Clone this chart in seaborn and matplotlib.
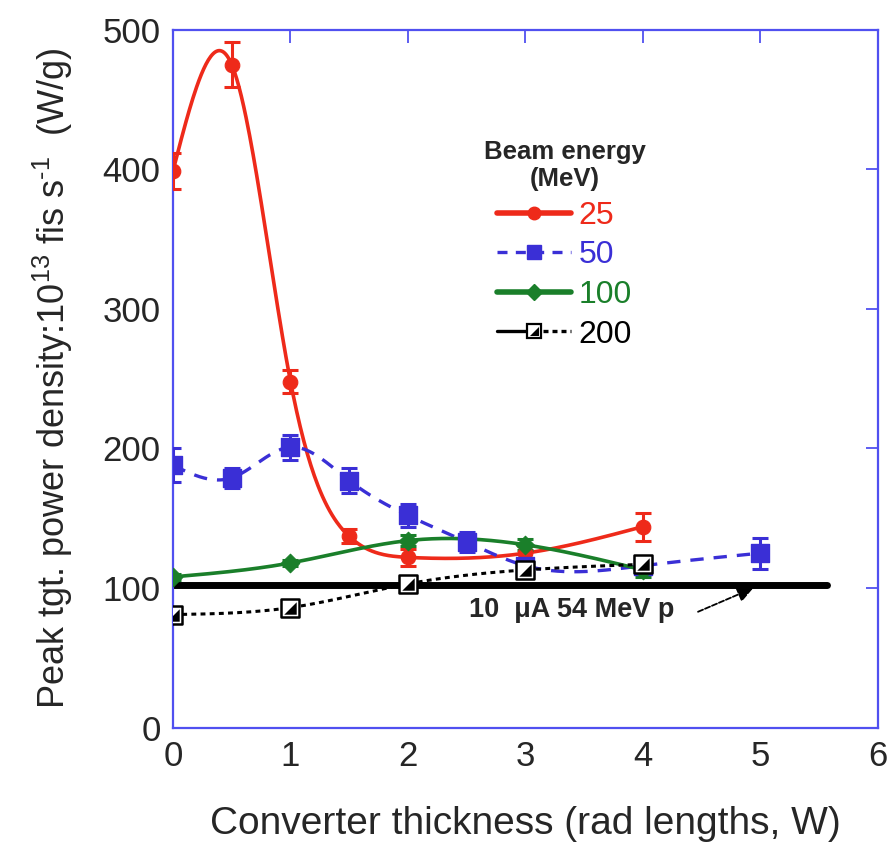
import numpy as np
import pandas as pd
import matplotlib
matplotlib.use("Agg")
import matplotlib.pyplot as plt
import seaborn as sns
from matplotlib.lines import Line2D
from matplotlib.legend_handler import HandlerBase

# Converter thickness (radiation lengths) and peak target power density (W/g)
x25 = [0, 0.5, 1, 1.5, 2, 3, 4]
y25 = [399, 475, 248, 137, 122, 125, 144]
e25 = [13, 16, 8, 5, 6, 5, 10]

x50 = [0, 0.5, 1, 1.5, 2, 2.5, 3, 4, 5]
y50 = [188, 179, 201, 177, 152, 133, 116, 116, 125]
e50 = [12, 7, 9, 9, 8, 7, 5, 6, 11]

x100 = [0, 1, 2, 3, 4]
y100 = [108, 118, 134, 131, 113]
e100 = [2, 2, 4, 4, 5]

x200 = [0, 1, 2, 3, 4]
y200 = [81, 86, 103, 113, 117]

energies = ["25", "50", "100", "200"]
proton_level = 102
proton_span = [0, 5.57]
proton_label = "10  \u03bcA 54 MeV p"

sns.set_style("white")
plt.rcParams["font.family"] = ["Liberation Sans", "DejaVu Sans"]
plt.rcParams["mathtext.fontset"] = "custom"
plt.rcParams["mathtext.rm"] = "Liberation Sans"
plt.rcParams["mathtext.it"] = "Liberation Sans:italic"


def natural_spline(x, y, n=400):
    x = np.asarray(x, float)
    y = np.asarray(y, float)
    k = len(x)
    h = np.diff(x)
    A = np.zeros((k, k))
    r = np.zeros(k)
    A[0, 0] = A[-1, -1] = 1
    for i in range(1, k - 1):
        A[i, i - 1] = h[i - 1]
        A[i, i] = 2 * (h[i - 1] + h[i])
        A[i, i + 1] = h[i]
        r[i] = 6 * ((y[i + 1] - y[i]) / h[i] - (y[i] - y[i - 1]) / h[i - 1])
    M = np.linalg.solve(A, r)
    xs = np.linspace(x[0], x[-1], n)
    idx = np.clip(np.searchsorted(x, xs) - 1, 0, k - 2)
    x0, x1 = x[idx], x[idx + 1]
    hh = x1 - x0
    a = (x1 - xs) / hh
    b = (xs - x0) / hh
    ys = (a * y[idx] + b * y[idx + 1]
          + ((a ** 3 - a) * M[idx] + (b ** 3 - b) * M[idx + 1]) * hh ** 2 / 6)
    return pd.DataFrame({"x": xs, "y": ys})


RED = "#ee2a1a"
BLUE = "#3a2fd6"
GREEN = "#1a7f2a"
BLACK = "#000000"
FRAME = "#5050f0"
HALF = [(1, 1), (1, -1), (-1, -1), (1, 1)]  # lower-right half of a square


class SplitSquareHandler(HandlerBase):
    """Solid line, half-filled square, dotted line."""

    def create_artists(self, legend, orig_handle, xdescent, ydescent,
                       width, height, fontsize, trans):
        y = height / 2 - ydescent
        x0 = -xdescent
        x1 = x0 + width
        xm = (x0 + x1) / 2
        arts = [
            Line2D([x0, xm], [y, y], color=BLACK, lw=2.4),
            Line2D([xm, x1], [y, y], color=BLACK, lw=2.4,
                   linestyle=(0, (1.5, 1.2))),
            Line2D([xm], [y], marker="s", ms=10, mfc="white", mec=BLACK,
                   mew=1.6, ls="none"),
            Line2D([xm], [y], marker=HALF, ms=6.5, color=BLACK, mew=0,
                   ls="none"),
        ]
        for a in arts:
            a.set_transform(trans)
        return arts


fig = plt.figure(figsize=(8.92, 8.52), dpi=100)
ax = fig.add_axes([0.194, 0.146, 0.790, 0.819])

# proton reference level
ax.plot(proton_span, [proton_level, proton_level], color="black", lw=5, zorder=2)

# smooth connecting curves
sns.lineplot(data=natural_spline(x25, y25), x="x", y="y", ax=ax, color=RED,
             lw=2.6, sort=False, zorder=3)
sns.lineplot(data=natural_spline(x50, y50), x="x", y="y", ax=ax, color=BLUE,
             lw=2.4, sort=False, zorder=3)
ax.lines[-1].set_dashes([4, 3])
sns.lineplot(data=natural_spline(x100, y100), x="x", y="y", ax=ax, color=GREEN,
             lw=2.6, sort=False, zorder=3)
sns.lineplot(data=natural_spline(x200, y200), x="x", y="y", ax=ax, color=BLACK,
             lw=2.2, sort=False, zorder=3)
ax.lines[-1].set_dashes([1.6, 1.4])

# error bars
for xs, ys, es, c in [(x25, y25, e25, RED), (x50, y50, e50, BLUE),
                      (x100, y100, e100, GREEN)]:
    ax.errorbar(xs, ys, yerr=es, fmt="none", ecolor=c, elinewidth=2.2,
                capsize=6, capthick=2.2, zorder=4)

# markers
sns.scatterplot(x=x25, y=y25, ax=ax, color=RED, marker="o", s=110,
                edgecolor=RED, zorder=5)
sns.scatterplot(x=x50, y=y50, ax=ax, color=BLUE, marker="s", s=150,
                edgecolor=BLUE, zorder=5)
sns.scatterplot(x=x100, y=y100, ax=ax, color=GREEN, marker="D", s=90,
                edgecolor=GREEN, zorder=5)
sns.scatterplot(x=x200, y=y200, ax=ax, color="white", marker="s", s=150,
                edgecolor=BLACK, linewidth=1.8, zorder=5)
sns.scatterplot(x=x200, y=y200, ax=ax, color=BLACK, marker=HALF, s=80,
                edgecolor=BLACK, linewidth=0, zorder=6)

# proton beam annotation
ax.text(2.52, 84, proton_label, fontsize=19.5, fontweight="bold",
        va="center", ha="left")
ax.annotate("", xy=(4.94, 100), xytext=(4.47, 83),
            arrowprops=dict(arrowstyle="-|>", color="black", lw=1.3,
                            linestyle=(0, (3, 1.2)), mutation_scale=24,
                            shrinkA=0, shrinkB=0))

ax.set_xlim(0, 6)
ax.set_ylim(0, 500)
ax.set_xticks(range(0, 7))
ax.set_yticks(range(0, 501, 100))
ax.set_xlabel("Converter thickness (rad lengths, W)", fontsize=28, labelpad=24)
ax.set_ylabel(r"Peak tgt. power density:10$^{13}$ fis s$^{\text{-}1}$  (W/g)",
              fontsize=26, labelpad=20)
ax.tick_params(direction="in", length=9, width=1.3, color=FRAME,
               top=True, right=True, labelsize=25, pad=9)
for sp in ax.spines.values():
    sp.set_color(FRAME)
    sp.set_linewidth(1.6)

# legend
handles = [
    Line2D([], [], color=RED, lw=4, marker="o", ms=9),
    Line2D([], [], color=BLUE, lw=2.4, dashes=[3, 2.5], marker="s", ms=10),
    Line2D([], [], color=GREEN, lw=4, marker="D", ms=8),
    Line2D([], [], color=BLACK),
]
leg = fig.legend(handles, energies, loc="upper left",
                 bbox_to_anchor=(0.51, 0.870), frameon=False, fontsize=23,
                 handlelength=2.3, handletextpad=0.25, labelspacing=0.3,
                 title="Beam energy\n(MeV)", alignment="center",
                 title_fontproperties={"weight": "bold", "size": 18.5},
                 handler_map={handles[3]: SplitSquareHandler()})
leg.get_title().set_multialignment("center")
for t, c in zip(leg.get_texts(), [RED, BLUE, GREEN, BLACK]):
    t.set_color(c)

fig.savefig("out.png", dpi=100)
